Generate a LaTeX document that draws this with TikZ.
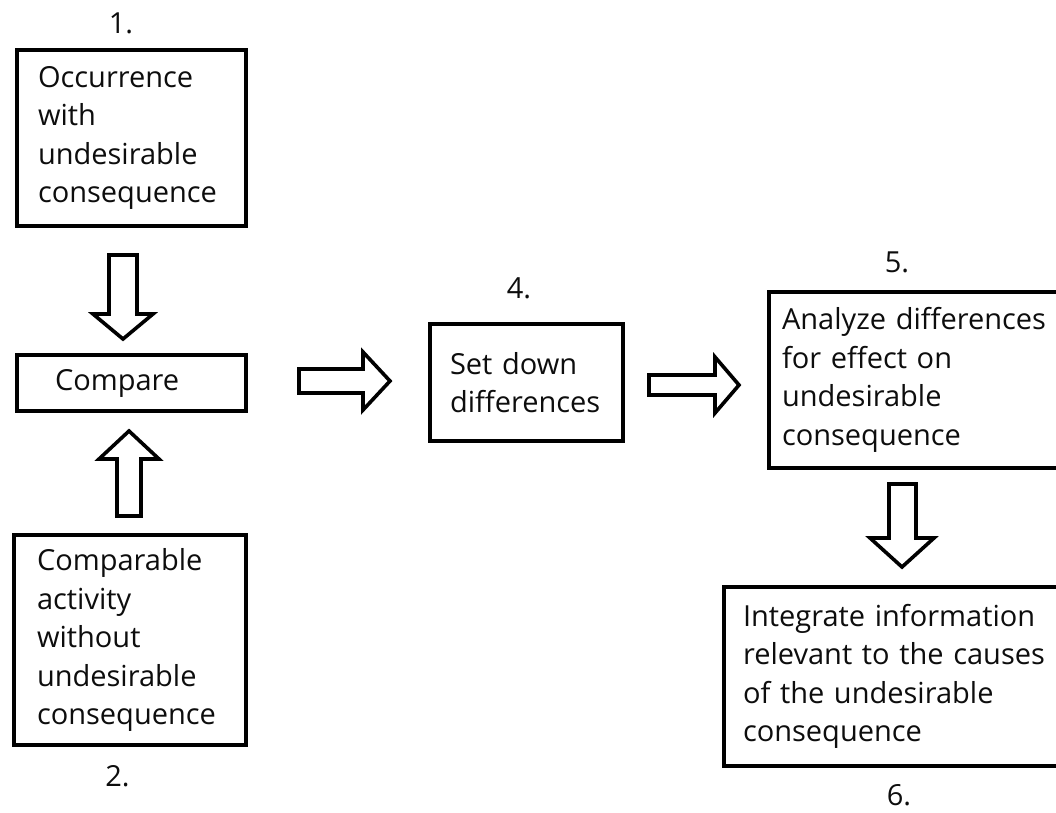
\documentclass[tikz,border=0pt]{standalone}
\usepackage{fontspec}
\setmainfont{Open Sans}
\hyphenpenalty=10000
\exhyphenpenalty=10000
\begin{document}
\begin{tikzpicture}[x=1pt,y=-1pt,
  every node/.style={font=\fontsize{29}{38.5}\selectfont, text=black!95},
  stepbox/.style={draw=black, line width=4pt, align=left, inner ysep=0pt},
  numlabel/.style={anchor=base, inner sep=0pt},
  blockarrow/.style={draw=black, line width=3.6pt, line join=miter, fill=white}]
\useasboundingbox (0,0) rectangle (1056,812);
\clip (0,0) rectangle (1056,812);

% process steps
\node[stepbox, minimum width=229pt, minimum height=176pt, inner xsep=21pt, text width=187pt]
  (occ) at (131.5,138) {Occurrence\\with\\undesirable\\consequence};
\node[stepbox, minimum width=229pt, minimum height=56pt, inner xsep=38pt, text width=153pt]
  (cmp) at (131.5,383) {Compare};
\node[stepbox, minimum width=232pt, minimum height=210pt, inner xsep=23pt, text width=186pt]
  (ref) at (130,640) {Comparable\\activity\\without\\undesirable\\consequence};
\node[stepbox, minimum width=193pt, minimum height=117pt, inner xsep=20pt, text width=153pt]
  (diff) at (526.5,382.5) {Set down\\differences};
\node[stepbox, minimum width=310pt, minimum height=176pt, inner xsep=13pt, text width=284pt]
  (ana) at (924,380) {Analyze differences\\for effect on\\undesirable\\consequence};
\node[stepbox, minimum width=350pt, minimum height=179pt, inner xsep=19pt, text width=312pt]
  (intg) at (899,676.5) {Integrate information\\relevant to the causes\\of the undesirable\\consequence};

% step numbers
\node[numlabel] (n1) at (121,33) {1.};
\node[numlabel] (n2) at (117.5,786) {2.};
\node[numlabel] (n4) at (519,298) {4.};
\node[numlabel] (n5) at (897,272) {5.};
\node[numlabel] (n6) at (899,805) {6.};

% block arrows between the steps
\draw[blockarrow] (109,255) -- (137,255) -- (137,314) -- (153,314) -- (123,339)
  -- (93,314) -- (109,314) -- cycle;
\draw[blockarrow] (117,516) -- (141,516) -- (141,459) -- (159,459) -- (129,431)
  -- (99,459) -- (117,459) -- cycle;
\draw[blockarrow] (299,369) -- (299,393) -- (363,393) -- (363,410) -- (390,381)
  -- (363,352) -- (363,369) -- cycle;
\draw[blockarrow] (649,375) -- (649,395) -- (715,395) -- (715,413) -- (739,385)
  -- (715,357) -- (715,375) -- cycle;
\draw[blockarrow] (889,484) -- (916,484) -- (916,538) -- (934,538) -- (902,567)
  -- (870,538) -- (889,538) -- cycle;
\end{tikzpicture}
\end{document}
